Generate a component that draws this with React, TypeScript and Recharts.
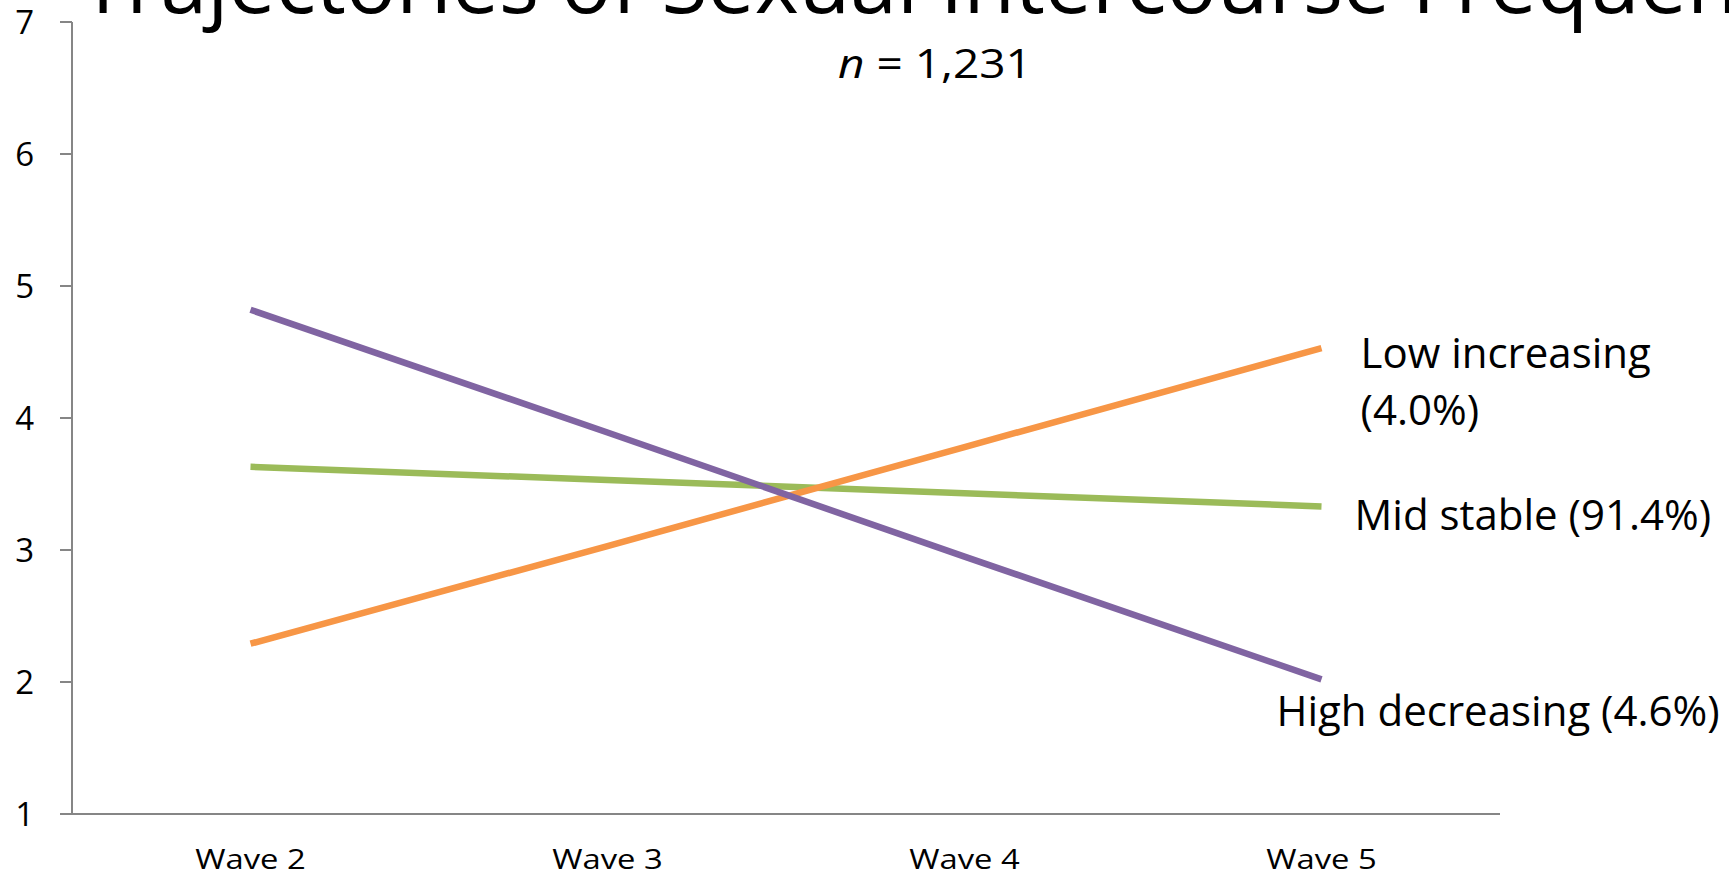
import React from 'react';
import { LineChart, Line, XAxis, YAxis, LabelList } from 'recharts';

// Trajectory group means of sexual intercourse frequency by survey wave
const waves = ['Wave 2', 'Wave 3', 'Wave 4', 'Wave 5'];
const lowIncreasing = [2.29, 3.03, 3.78, 4.53];
const midStable = [3.63, 3.53, 3.43, 3.33];
const highDecreasing = [4.82, 3.89, 2.95, 2.02];
const yTicks = [1, 2, 3, 4, 5, 6, 7];

const lowLabel = ['Low increasing', '(4.0%)'];
const midLabel = ['Mid stable (91.4%)'];
const highLabel = ['High decreasing (4.6%)'];

const titleText = 'Trajectories of Sexual Intercourse Frequency';
const sampleSize = '1,231';

const data = waves.map((wave, i) => ({
  wave,
  low: lowIncreasing[i],
  mid: midStable[i],
  high: highDecreasing[i],
}));

const FONT = '"Open Sans", "Noto Sans", sans-serif';
const AXIS = '#868686';
const W = 1729;
const H = 876;

const YTick = (props: any) => {
  const { x, y, payload } = props;
  return (
    <text x={x} y={y} dy={12} textAnchor="end" fontFamily={FONT} fontSize={33} fill="#000">
      {payload.value}
    </text>
  );
};

const XTick = (props: any) => {
  const { x, y, payload } = props;
  return (
    <g transform={`translate(${x},${y + 55}) scale(1.17,1)`}>
      <text x={0} y={0} textAnchor="middle" fontFamily={FONT} fontSize={28} fill="#000">
        {payload.value}
      </text>
    </g>
  );
};

// End-of-line group label, drawn only at the last wave
const endLabel = (lines: string[], dx: number, dy: number) => (props: any) => {
  const { x, y, index } = props;
  if (index !== waves.length - 1) return null;
  return (
    <text x={x + dx} y={y + dy} fontFamily={FONT} fontSize={42} fill="#000">
      {lines.map((t, i) => (
        <tspan key={i} x={x + dx} dy={i === 0 ? 0 : 57}>
          {t}
        </tspan>
      ))}
    </text>
  );
};

export default function App() {
  return (
    <div style={{ position: 'absolute', left: 0, top: 0, width: W, height: H, background: '#fff' }}>
      <LineChart
        width={W}
        height={H}
        data={data}
        margin={{ top: 22, right: 229, bottom: 0, left: 0 }}
      >
        <XAxis
          dataKey="wave"
          scale="band"
          height={62}
          tickLine={false}
          tickSize={0}
          tickMargin={0}
          axisLine={{ stroke: AXIS, strokeWidth: 2 }}
          tick={<XTick />}
          interval={0}
        />
        <YAxis
          domain={[1, 7]}
          ticks={yTicks}
          width={72}
          tickSize={12}
          tickMargin={26}
          axisLine={{ stroke: AXIS, strokeWidth: 2 }}
          tickLine={{ stroke: AXIS, strokeWidth: 2 }}
          tick={<YTick />}
          interval={0}
        />
        <Line
          dataKey="mid"
          stroke="#9BBB59"
          strokeWidth={6.5}
          dot={false}
          activeDot={false}
          isAnimationActive={false}
        >
          <LabelList dataKey="mid" content={endLabel(midLabel, 33, 24)} />
        </Line>
        <Line
          dataKey="low"
          stroke="#F79646"
          strokeWidth={6.5}
          dot={false}
          activeDot={false}
          isAnimationActive={false}
        >
          <LabelList dataKey="low" content={endLabel(lowLabel, 39, 20)} />
        </Line>
        <Line
          dataKey="high"
          stroke="#8064A2"
          strokeWidth={6.5}
          dot={false}
          activeDot={false}
          isAnimationActive={false}
        >
          <LabelList dataKey="high" content={endLabel(highLabel, -45, 47)} />
        </Line>
      </LineChart>
      <svg
        width={W}
        height={H}
        style={{ position: 'absolute', left: 0, top: 0, pointerEvents: 'none' }}
      >
        <text x={80} y={13} fontFamily={FONT} fontSize={84} fill="#000">
          {titleText}
        </text>
        <g transform="translate(935,78) scale(1.15,1)">
          <text x={0} y={0} textAnchor="middle" fontFamily={FONT} fontSize={40} fill="#000">
            <tspan fontStyle="italic">n</tspan>
            {' = ' + sampleSize}
          </text>
        </g>
      </svg>
    </div>
  );
}
